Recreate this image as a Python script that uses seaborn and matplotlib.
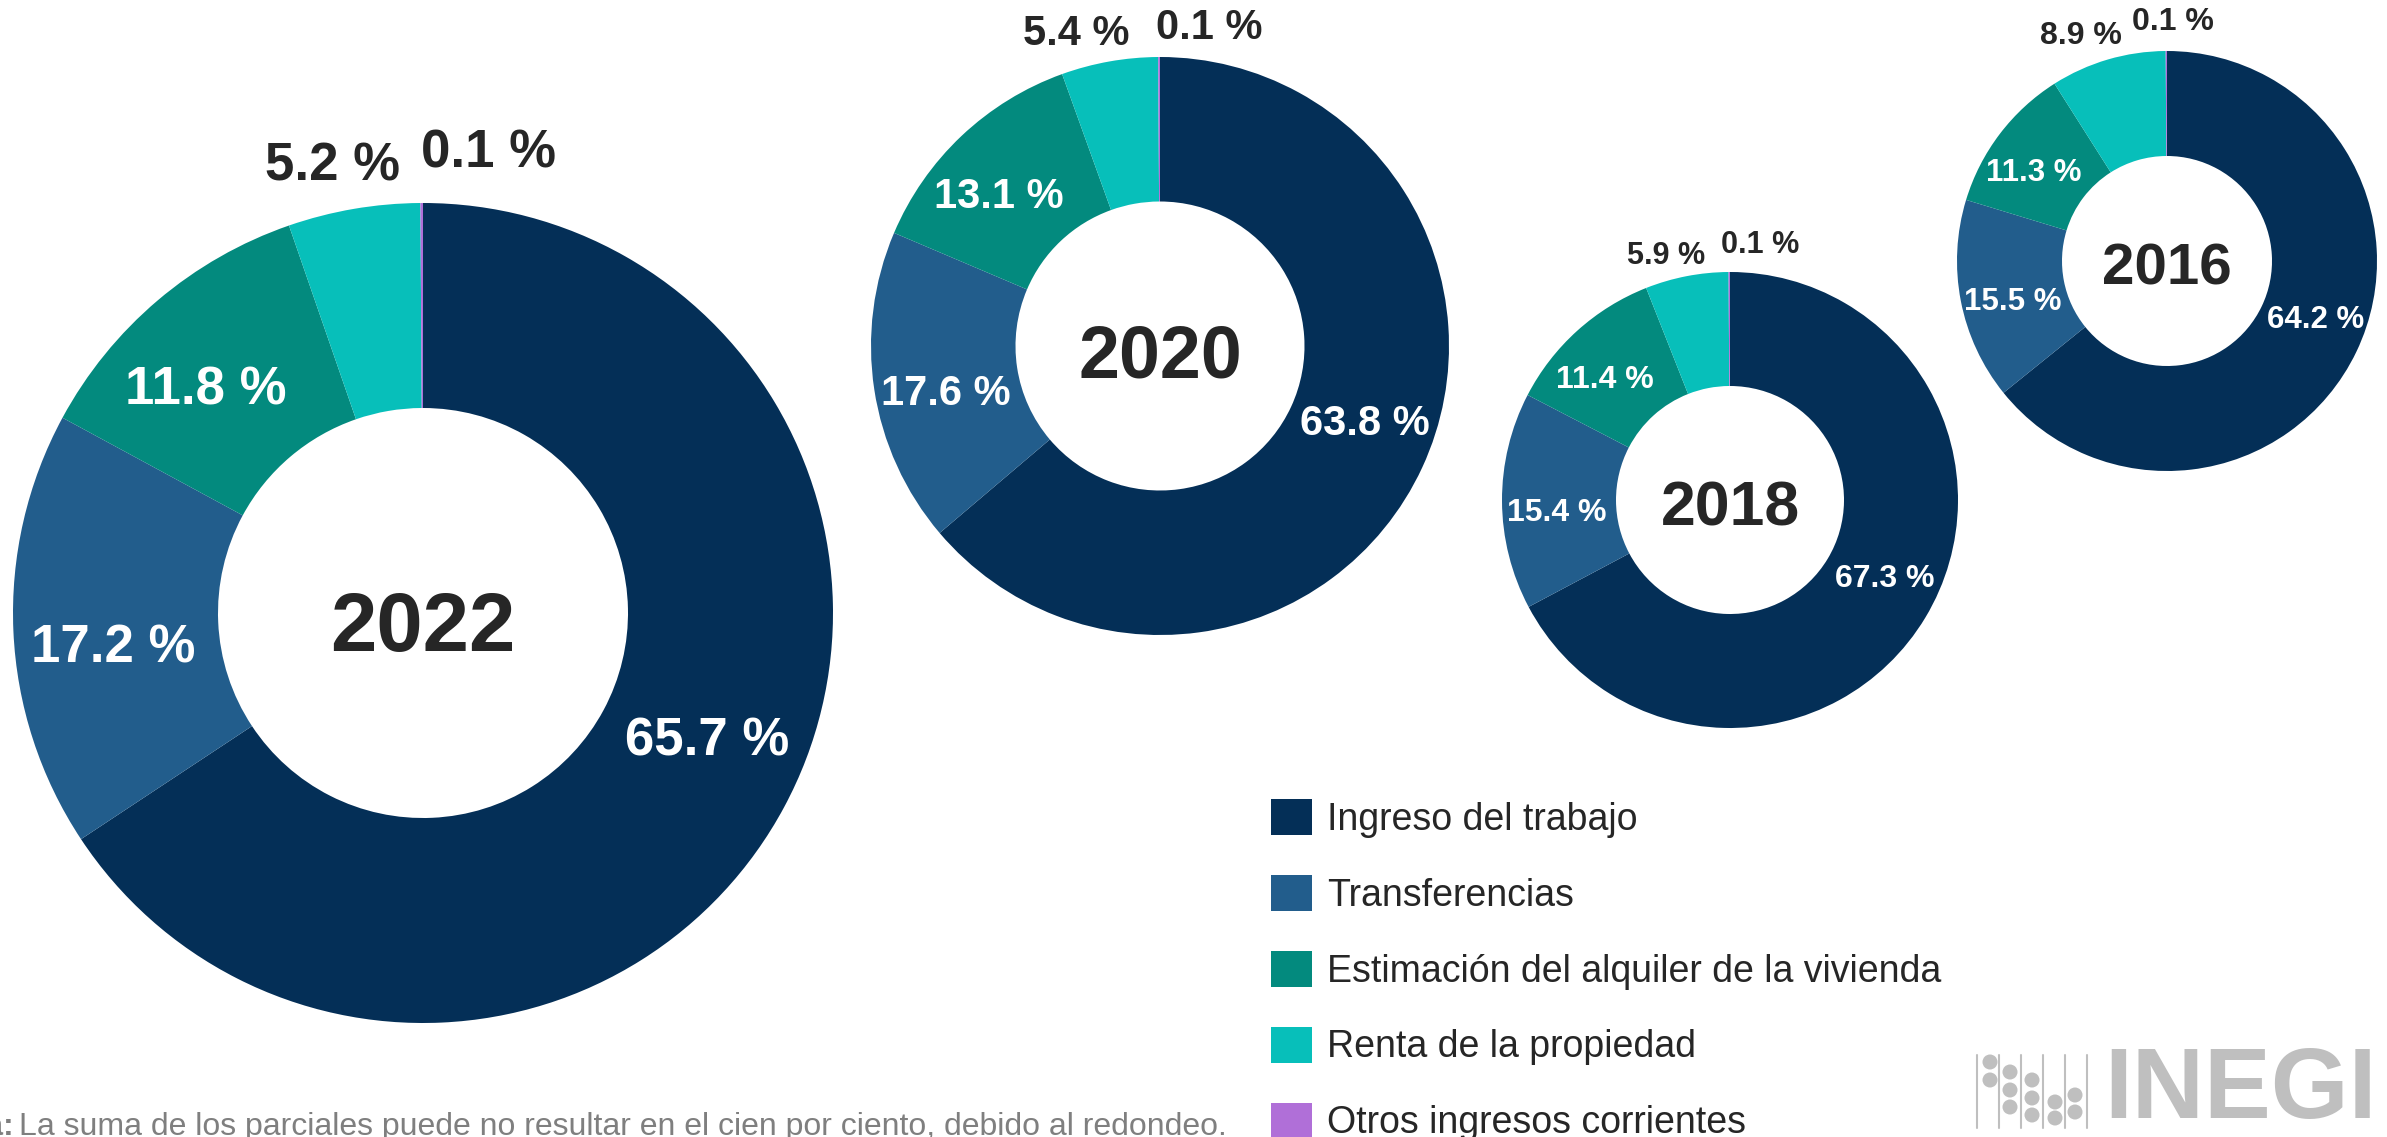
import numpy as np
import matplotlib
matplotlib.use("Agg")
import matplotlib.pyplot as plt
import seaborn as sns
from matplotlib.patches import Circle

# Data: income structure by year (percent)
years = ["2022", "2020", "2018", "2016"]
categorias = ["Ingreso del trabajo", "Transferencias",
              "Estimación del alquiler de la vivienda",
              "Renta de la propiedad", "Otros ingresos corrientes"]
ingreso_trabajo = [65.7, 63.8, 67.3, 64.2]
transferencias = [17.2, 17.6, 15.4, 15.5]
alquiler = [11.8, 13.1, 11.4, 11.3]
renta = [5.2, 5.4, 5.9, 8.9]
otros = [0.1, 0.1, 0.1, 0.1]

colores = ["#042F57", "#225D8C", "#038A7E", "#07BFBA", "#B06FD8"]

sns.set_theme(style="white")
plt.rcParams["font.family"] = ["Liberation Sans", "DejaVu Sans"]
palette = sns.color_palette(colores)

W, H = 2387, 1137
fig = plt.figure(figsize=(W / 100, H / 100), dpi=100)
fig.patch.set_facecolor("white")

# layout per donut (pixels / radius units): center, radius, font sizes,
# and where the two small outer labels sit
layout = {
    "2022": dict(cx=423, cy=613, r=410, fs=38, fy=60, fo=38,
                 renta_xy=(-0.22, 1.09), otros_xy=(0.16, 1.12)),
    "2020": dict(cx=1160, cy=346, r=289, fs=30, fy=53, fo=30,
                 renta_xy=(-0.29, 1.08), otros_xy=(0.17, 1.10)),
    "2018": dict(cx=1730, cy=500, r=228, fs=23, fy=45, fo=22,
                 renta_xy=(-0.28, 1.07), otros_xy=(0.13, 1.12)),
    "2016": dict(cx=2167, cy=261, r=210, fs=22.5, fy=42, fo=23,
                 renta_xy=(-0.41, 1.07), otros_xy=(0.03, 1.14)),
}

dark = "#262626"
legend_handles = None
for k, year in enumerate(years):
    vals = [ingreso_trabajo[k], transferencias[k], alquiler[k], renta[k], otros[k]]
    L = layout[year]
    ax = fig.add_axes([(L["cx"] - L["r"]) / W, 1 - (L["cy"] + L["r"]) / H,
                       2 * L["r"] / W, 2 * L["r"] / H])
    wedges, _ = ax.pie(vals, colors=palette, startangle=90, counterclock=False,
                       radius=1, wedgeprops=dict(width=0.5, linewidth=0))
    ax.set_xlim(-1, 1)
    ax.set_ylim(-1, 1)
    ax.axis("off")
    if legend_handles is None:
        legend_handles = wedges

    for i, (w, v) in enumerate(zip(wedges, vals)):
        txt = f"{v:.1f} %"
        if i < 3:
            ang = np.deg2rad((w.theta1 + w.theta2) / 2 + 4)
            ax.text(0.76 * np.cos(ang), 0.76 * np.sin(ang), txt, ha="center",
                    va="center", color="white", fontsize=L["fs"], fontweight="bold")
        else:
            x, y = L["renta_xy"] if i == 3 else L["otros_xy"]
            ax.text(x, y, txt, ha="center", va="center", color=dark,
                    fontsize=L["fo"], fontweight="bold", clip_on=False)

    ax.text(0, -0.04, year, ha="center", va="center", color=dark,
            fontsize=L["fy"], fontweight="bold")

# legend
fig.legend(legend_handles, categorias, loc="upper left",
           bbox_to_anchor=(1271 / W, 1 - 799 / H), frameon=False,
           fontsize=27, handlelength=1.1, handleheight=1.1, handletextpad=0.4,
           labelspacing=0.99, borderpad=0, borderaxespad=0,
           labelcolor=dark)

# note (partially cut at the left edge like the original)
fig.text(15 / W, 2 / H, "Nota:", ha="right", va="baseline", fontsize=23,
         fontweight="bold", color="#7F7F7F")
fig.text(19 / W, 2 / H, "La suma de los parciales puede no resultar en el cien por ciento, "
         "debido al redondeo.", ha="left", va="baseline", fontsize=23, color="#7F7F7F")

# INEGI logo
logo = fig.add_axes([1960 / W, 1 - 1137 / H, 427 / W, 97 / H])
logo.set_xlim(1960, 2387)
logo.set_ylim(1137, 1040)
logo.axis("off")
grey = "#BFBFBF"
for lx in [1977, 1999, 2021, 2043, 2065, 2087]:
    logo.plot([lx, lx], [1055, 1128], color=grey, lw=1.5)
beads = [(1990, 1062), (1990, 1080), (2010, 1072), (2010, 1090), (2010, 1107),
         (2032, 1080), (2032, 1098), (2032, 1115), (2055, 1102), (2055, 1118),
         (2075, 1095), (2075, 1112)]
for bx, by in beads:
    logo.add_patch(Circle((bx, by), 7.5, color=grey, lw=0))
logo.text(2240, 1092, "INEGI", ha="center", va="center", color=grey,
          fontsize=72, fontweight="bold")

fig.savefig("out.png", dpi=100, facecolor="white")
